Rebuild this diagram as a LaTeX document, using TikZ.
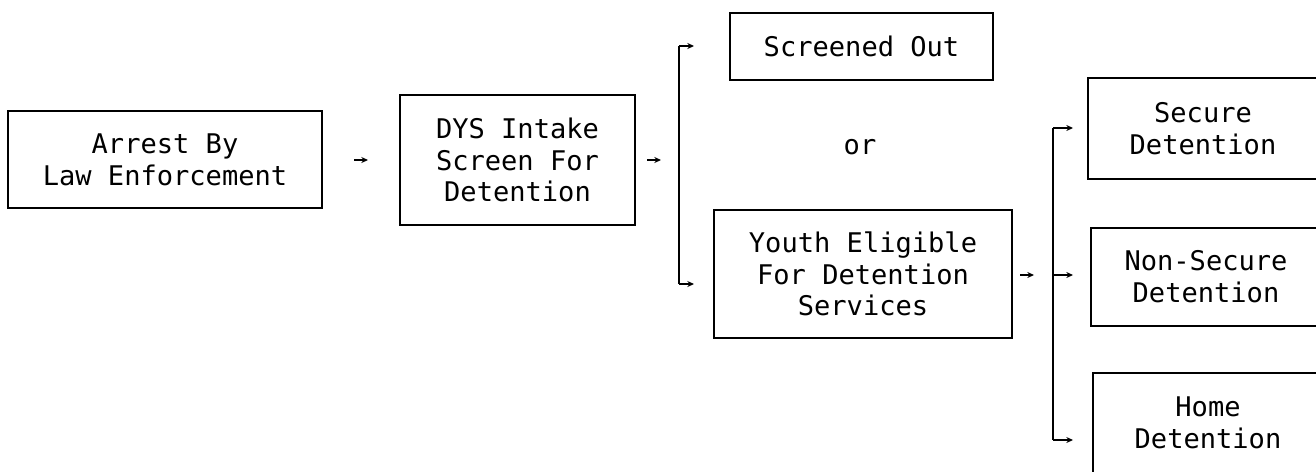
\documentclass[tikz,border=0pt]{standalone}
\usepackage{fontspec}
\newfontfamily\flowfont{DejaVu Sans Mono}
\usepackage{tikz}
\usetikzlibrary{shapes,arrows,arrows.meta}

\tikzset{
  stage/.style={draw, line width=1pt, align=center, inner sep=0pt,
    font=\flowfont\fontsize{20.3}{23.8}\selectfont},
  flow/.style={-{Stealth[length=5pt,width=4.5pt]}, line width=0.8pt},
  rail/.style={line width=0.8pt},
}

\begin{document}
\begin{tikzpicture}[x=0.75pt,y=0.75pt,yscale=-1,xscale=1]
    \useasboundingbox (0,0) rectangle (1316,471);
    \clip (0,0) rectangle (1316,471);

    % Boxes
    \node [stage, minimum width=314*0.75pt, minimum height=97*0.75pt] (arrest) at (165,159.5) {Arrest By\\Law Enforcement};
    \node [stage, minimum width=235*0.75pt, minimum height=130*0.75pt] (intake) at (517.5,160) {DYS Intake\\Screen For\\Detention};
    \node [stage, minimum width=263*0.75pt, minimum height=67*0.75pt] (screened) at (861.5,46.5) {Screened Out};
    \node [stage, minimum width=298*0.75pt, minimum height=128*0.75pt] (eligible) at (863,274) {Youth Eligible\\For Detention\\Services};
    \node [stage, minimum width=230*0.75pt, minimum height=101*0.75pt] (secure) at (1203,128.5) {Secure\\Detention};
    \node [stage, minimum width=230*0.75pt, minimum height=98*0.75pt] (nonsecure) at (1206,277) {Non-Secure\\Detention};
    \node [stage, minimum width=230*0.75pt, minimum height=100*0.75pt] (home) at (1208,423) {Home\\Detention};
    % Text Node
    \node [font=\flowfont\fontsize{20.3}{23.8}\selectfont] (or) at (860,147) {or};

    % Arrow points
    \coordinate (a1s) at (354,160);
    \coordinate (a1e) at (368,160);
    \coordinate (a2s) at (647,160);
    \coordinate (a2e) at (661,160);
    \coordinate (a3s) at (1020,275);
    \coordinate (a3e) at (1034,275);
    % Bracket one
    \coordinate (b1t) at (679,46);
    \coordinate (b1b) at (679,284);
    \coordinate (b1te) at (694,46);
    \coordinate (b1be) at (694,284);
    % Bracket two
    \coordinate (b2t) at (1053,128);
    \coordinate (b2m) at (1053,275);
    \coordinate (b2b) at (1053,440);
    \coordinate (b2te) at (1073,128);
    \coordinate (b2me) at (1073,275);
    \coordinate (b2be) at (1073,440);

    % Arrows
    \draw [flow] (a1s) -- (a1e);
    \draw [flow] (a2s) -- (a2e);
    \draw [flow] (a3s) -- (a3e);
    \draw [rail] (b1t) -- (b1b);
    \draw [flow] (b1t) -- (b1te);
    \draw [flow] (b1b) -- (b1be);
    \draw [rail] (b2t) -- (b2b);
    \draw [flow] (b2t) -- (b2te);
    \draw [flow] (b2m) -- (b2me);
    \draw [flow] (b2b) -- (b2be);

\end{tikzpicture}
\end{document}
